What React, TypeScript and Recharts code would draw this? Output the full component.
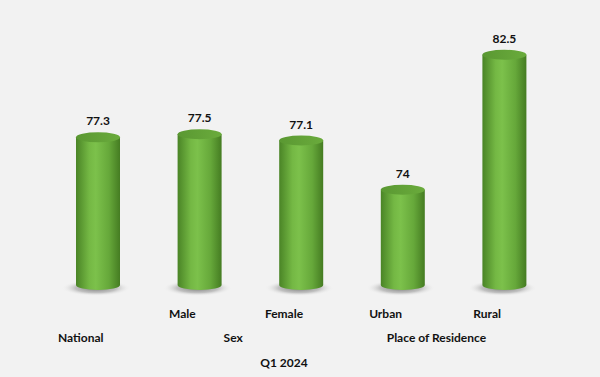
import { Bar, BarChart, LabelList, XAxis, YAxis } from 'recharts'

const categories = ['National', 'Male', 'Female', 'Urban', 'Rural']
const values = [77.3, 77.5, 77.1, 74, 82.5]
const subLabels = ['', 'Male', 'Female', 'Urban', 'Rural']
const groups = ['National', 'Sex', 'Sex', 'Place of Residence', 'Place of Residence']
const periodLabel = 'Q1 2024'

const data = categories.map((category, i) => ({ category, value: values[i] }))

const W = 600
const H = 377
const M = { top: 31, right: 45, left: 47, bottom: 0 }
const PLOT_W = W - M.left - M.right
const SHIFT = -17
const FONT = 'Lato, "Open Sans", sans-serif'
const TEXT = '#111'

function Cylinder(props: any) {
  const { x, y, width: w, height: h } = props
  if (w == null || h == null) return null
  const rx = w / 2
  const ry = 5
  const cx = x + rx
  const bottom = y + h
  return (
    <g>
      <ellipse cx={cx - 2} cy={bottom + 3} rx={w * 0.78} ry={8} fill="url(#cylShadow)" />
      <path
        d={`M${x},${y} L${x},${bottom} A${rx},${ry} 0 0 0 ${x + w},${bottom} L${x + w},${y} Z`}
        fill="url(#cylBody)"
      />
      <ellipse cx={cx} cy={y} rx={rx} ry={ry} fill="url(#cylTop)" />
    </g>
  )
}

function AxisTick(props: any) {
  const { x, y, index, width, visibleTicksCount } = props
  const step = width && visibleTicksCount ? width / visibleTicksCount : PLOT_W / categories.length
  const sub = subLabels[index]
  const group = groups[index]
  const firstOfGroup = index === 0 || groups[index - 1] !== group
  let span = 0
  for (let i = index; i < groups.length && groups[i] === group; i++) span++
  const style = { fontFamily: FONT, fontSize: 12, fontWeight: 700, fill: TEXT }
  return (
    <g>
      {sub && (
        <text x={x + SHIFT} y={y + 28} textAnchor="middle" dominantBaseline="central" style={style}>
          {sub}
        </text>
      )}
      {firstOfGroup && (
        <text
          x={x + ((span - 1) * step) / 2 + SHIFT}
          y={y + 52}
          textAnchor="middle"
          dominantBaseline="central"
          style={style}
        >
          {group}
        </text>
      )}
    </g>
  )
}

export default function App() {
  return (
    <div style={{ position: 'absolute', left: 0, top: 0, width: W, height: H, background: '#f2f2f2' }}>
      <BarChart width={W} height={H} data={data} margin={M} barCategoryGap={29}>
        <defs>
          <linearGradient id="cylBody" x1="0" y1="0" x2="1" y2="0">
            <stop offset="0%" stopColor="#4a8426" />
            <stop offset="30%" stopColor="#74b844" />
            <stop offset="45%" stopColor="#7cc14b" />
            <stop offset="75%" stopColor="#66a83a" />
            <stop offset="100%" stopColor="#457c22" />
          </linearGradient>
          <linearGradient id="cylTop" x1="0" y1="0" x2="1" y2="0">
            <stop offset="0%" stopColor="#5a9832" />
            <stop offset="100%" stopColor="#6aab3c" />
          </linearGradient>
          <radialGradient id="cylShadow" cx="0.5" cy="0.5" r="0.5">
            <stop offset="0%" stopColor="#6f6f6f" stopOpacity={0.95} />
            <stop offset="60%" stopColor="#a0a0a0" stopOpacity={0.6} />
            <stop offset="100%" stopColor="#f2f2f2" stopOpacity={0} />
          </radialGradient>
        </defs>
        <XAxis
          dataKey="category"
          axisLine={false}
          tickLine={false}
          tickSize={0}
          tickMargin={0}
          height={92}
          interval={0}
          tick={<AxisTick />}
          label={(p: any) => {
            const vb = p.viewBox
            return (
              <text
                x={vb.x + vb.width / 2 + SHIFT}
                y={vb.y + 77}
                textAnchor="middle"
                dominantBaseline="central"
                style={{ fontFamily: FONT, fontSize: 12, fontWeight: 700, fill: TEXT }}
              >
                {periodLabel}
              </text>
            )
          }}
        />
        <YAxis hide domain={[68, 84]} />
        <Bar dataKey="value" shape={<Cylinder />} isAnimationActive={false}>
          <LabelList
            dataKey="value"
            position="top"
            offset={12}
            style={{ fontFamily: FONT, fontSize: 12, fontWeight: 700, fill: TEXT }}
          />
        </Bar>
      </BarChart>
    </div>
  )
}
